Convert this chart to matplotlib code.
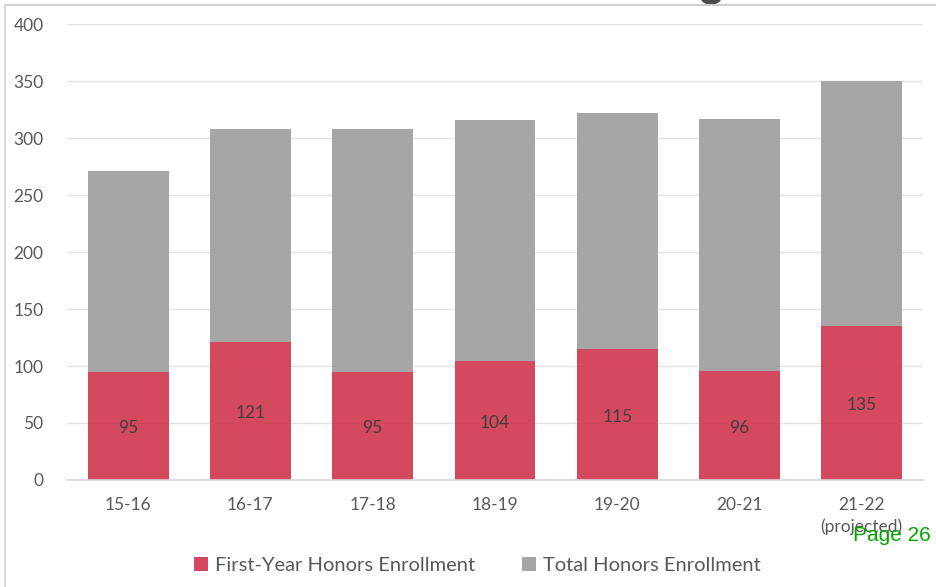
import matplotlib.pyplot as plt
from matplotlib.lines import Line2D
from matplotlib.patches import Ellipse

years = ['15-16', '16-17', '17-18', '18-19', '19-20', '20-21', '21-22\n(projected)']
first_year = [95, 121, 95, 104, 115, 96, 135]
total = [271, 308, 308, 316, 322, 317, 350]

red = '#D1354D'
grey = '#A6A6A6'
txt = '#595959'

plt.rcParams['font.family'] = ['Lato', 'DejaVu Sans']

fig = plt.figure(figsize=(9.36, 5.87), dpi=100)
ax = fig.add_axes([0.0716, 0.1823, 0.9144, 0.7767])

x = range(len(years))
# grey part sits on top of first-year bar so the whole column reaches total
rest = [t - f for t, f in zip(total, first_year)]
ax.bar(x, rest, bottom=first_year, width=0.66, color=grey,
       label='Total Honors Enrollment', zorder=2)
ax.bar(x, first_year, width=0.66, color=red, alpha=0.9,
       label='First-Year Honors Enrollment', zorder=3)
for i, v in enumerate(first_year):
    ax.text(i, v / 2 - 2, str(v), ha='center', va='center', fontsize=12.5, color='#404040', zorder=4)

ax.set_xlim(-0.5, len(years) - 0.5)
ax.set_ylim(0, 400)
ax.set_yticks(range(0, 401, 50))
ax.set_xticks(list(x))
ax.set_xticklabels(years, fontsize=12.5, color=txt, linespacing=1.45, va='top')
ax.tick_params(axis='y', labelsize=12.5, labelcolor=txt, length=0, pad=17)
ax.tick_params(axis='x', length=0, pad=12)
ax.grid(axis='y', color='#E3E3E3', linewidth=1, zorder=0)
for s in ['top', 'right', 'left']:
    ax.spines[s].set_visible(False)
ax.spines['bottom'].set_color('#D9D9D9')
ax.spines['bottom'].set_linewidth(1.2)
ax.spines['bottom'].set_zorder(5)

h, l = ax.get_legend_handles_labels()
fig.legend(h[::-1], l[::-1], loc='center', bbox_to_anchor=(0.51, 0.037), ncol=2,
           frameon=False, fontsize=14.5, labelcolor=txt, handlelength=0.7, handleheight=0.7,
           handletextpad=0.35, columnspacing=2.3)

fig.text(0.994, 0.087, 'Page 26', ha='right', va='center', fontsize=15,
         color='#00A800', family='Liberation Sans')

# slide frame lines and the clipped title glyph at the top
fig.add_artist(Line2D([5 / 936, 1], [1 - 5 / 587, 1 - 5 / 587], color='#D0D0D0', lw=1.5))
fig.add_artist(Line2D([5 / 936, 5 / 936], [0, 1 - 5 / 587], color='#D9D9D9', lw=1.5))
fig.add_artist(Ellipse((711 / 936, 1 + 3 / 587), 20 / 936, 14 / 587, color='#4A4A4A'))

fig.savefig('out.png', dpi=100)
